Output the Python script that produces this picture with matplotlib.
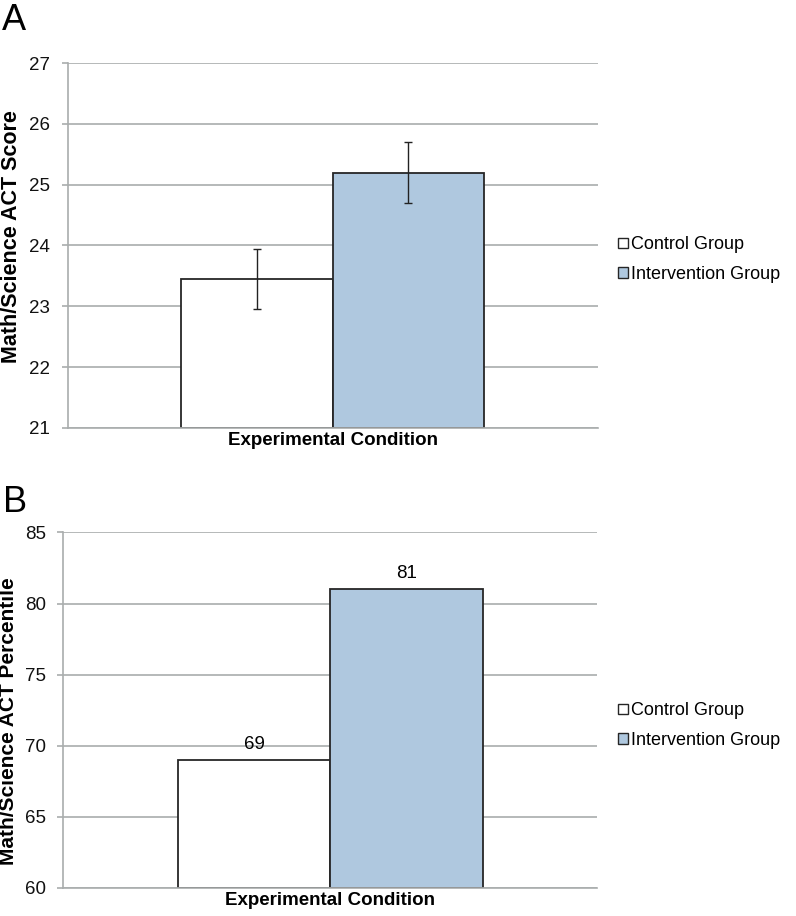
import matplotlib
matplotlib.use("Agg")
import matplotlib.pyplot as plt
from matplotlib.patches import Patch

plt.rcParams['font.family'] = ['Liberation Sans', 'DejaVu Sans']

# data
groups = ["Control Group", "Intervention Group"]
act_score = [23.45, 25.2]
act_score_err = [0.5, 0.5]
act_pct = [69, 81]

score_ticks = [21, 22, 23, 24, 25, 26, 27]
pct_ticks = [60, 65, 70, 75, 80, 85]

fills = ["white", "#afc8df"]
grid_col = "#a9adad"
edge_col = "#262626"

fig = plt.figure(figsize=(7.96, 9.16), dpi=100)
axA = fig.add_axes([0.085, 0.5328, 0.666, 0.3984])
axB = fig.add_axes([0.0795, 0.0306, 0.671, 0.3881])

bw = 1 / 3.5  # excel default gap width 150%
xs = [-bw / 2, bw / 2]


def style(ax, ticks, ylabel, lab_x, lab_y, lab_size):
    ax.set_xlim(-0.5, 0.5)
    ax.set_ylim(ticks[0], ticks[-1])
    ax.set_yticks(ticks)
    ax.set_xticks([])
    ax.yaxis.grid(True, color=grid_col, linewidth=1.2)
    ax.set_axisbelow(True)
    for s in ["top", "right"]:
        ax.spines[s].set_visible(False)
    ax.spines["left"].set_color(grid_col)
    ax.spines["bottom"].set_color(grid_col)
    ax.spines["left"].set_linewidth(1.2)
    ax.spines["bottom"].set_linewidth(1.2)
    ax.tick_params(axis="y", colors=grid_col, labelcolor="#111111",
                   length=4.5, width=1.2, pad=8, labelsize=13.5)
    ax.set_xlabel("Experimental Condition", fontsize=13.5, fontweight="bold", labelpad=3)
    ax.set_ylabel(ylabel, fontsize=lab_size, fontweight="bold")
    ax.yaxis.set_label_coords(lab_x, lab_y)


# panel A
axA.bar(xs, [v - score_ticks[0] for v in act_score], bottom=score_ticks[0], width=bw,
        color=fills, edgecolor=edge_col, linewidth=1.3)
axA.errorbar(xs, act_score, yerr=act_score_err, fmt="none", ecolor="#222222",
             elinewidth=1.0, capsize=3, capthick=1.0)
style(axA, score_ticks, "Math/Science ACT Score", -0.087, 0.525, 15.5)

# panel B
axB.bar(xs, [v - pct_ticks[0] for v in act_pct], bottom=pct_ticks[0], width=bw,
        color=fills, edgecolor=edge_col, linewidth=1.3)
for x, v in zip(xs, act_pct):
    axB.annotate(str(v), (x, v), xytext=(0, 5), textcoords="offset points",
                 ha="center", va="bottom", fontsize=13.5)
style(axB, pct_ticks, "Math/Science ACT Percentile", -0.085, 0.47, 15)

handles = [Patch(facecolor=c, edgecolor=edge_col, linewidth=1.0) for c in fills]
for yc in [1 - 259.5 / 916, 1 - 725.5 / 916]:
    fig.legend(handles, groups, loc="center left", bbox_to_anchor=(0.765, yc),
               frameon=False, fontsize=13, handlelength=0.55, handleheight=0.55,
               handletextpad=0.15, labelspacing=0.68, borderpad=0)

fig.text(0.003, 0.978, "A", fontsize=26, va="center", ha="left")
fig.text(0.004, 0.451, "B", fontsize=26, va="center", ha="left")

fig.savefig("out.png", dpi=100)
